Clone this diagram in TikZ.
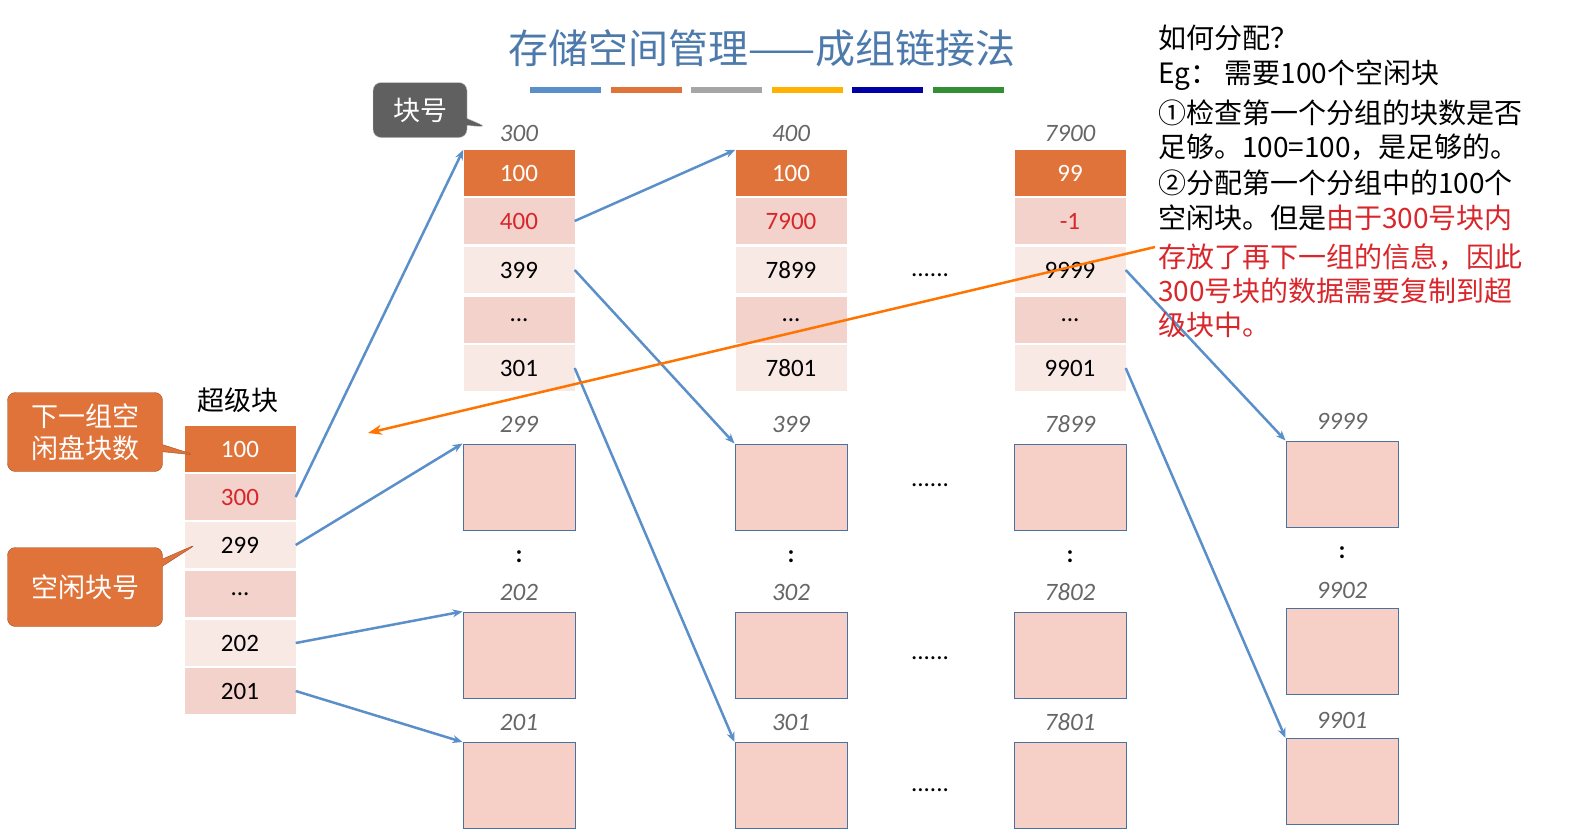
\documentclass[tikz,border=0pt]{standalone}
\usepackage{fontspec}
\setmainfont{Carlito}
\newfontfamily\cjk{Noto Sans CJK SC}
\usetikzlibrary{arrows.meta,shapes.callouts}
\definecolor{hdr}{HTML}{E0733A}
\definecolor{rowa}{HTML}{F2D2CA}
\definecolor{rowb}{HTML}{F9E9E5}
\definecolor{blk}{HTML}{F6D0C6}
\definecolor{lnk}{HTML}{5B8FC9}
\definecolor{txtred}{HTML}{D9262B}
\tikzset{
  cell/.style={minimum width=111pt,minimum height=46pt,inner sep=0pt,font=\fontsize{25}{25}\selectfont},
  blank/.style={draw=lnk!80!black,fill=blk,line width=1pt,minimum width=112pt,minimum height=86pt,inner sep=0pt},
  num/.style={text=gray!80!black,font=\fontsize{25}{25}\selectfont\itshape},
  link/.style={draw=lnk,line width=2.5pt,-{Stealth[length=10pt,width=8pt]}},
  note/.style={anchor=west,inner sep=0pt,font=\cjk\fontsize{28}{28}\selectfont},
  dots/.style={font=\fontsize{25}{25}\selectfont,inner sep=0pt}
}
\begin{document}
\begin{tikzpicture}[x=1pt,y=-1pt]
\useasboundingbox (0,0) rectangle (1588,833);
% title
\node[text=lnk!85!black,font=\cjk\fontsize{40}{40}\selectfont] (title) at (762,48) {存储空间管理——成组链接法};
\foreach \c [count=\i from 0] in {lnk,hdr,gray!70,{orange!60!yellow},{blue!65!black},{green!45!black!80!white}}
   \fill[\c] (530+80.6*\i,87) rectangle +(71,6);

% super block
\node[font=\cjk\fontsize{27}{27}\selectfont] (sbname) at (238,400) {超级块};
\node[cell,fill=hdr,text=white] (s1) at (240,449) {100};
\node[cell,fill=rowa,text=txtred] (s2) at (240,497) {300};
\node[cell,fill=rowb] (s3) at (240,545) {299};
\node[cell,fill=rowa] (s4) at (240,594) {...};
\node[cell,fill=rowb] (s5) at (240,643) {202};
\node[cell,fill=rowa] (s6) at (240,691) {201};

% groups
\foreach \x/\n/\a/\b/\c/\d/\e in {519/g1/300/100/400/399/301, 791/g2/400/100/7900/7899/7801, 1070/g3/7900/99/-1/9999/9901}{
   \node[num] (\n-no) at (\x,133) {\a};
   \node[cell,fill=hdr,text=white] (\n-1) at (\x,173) {\b};
   \node[cell,fill=rowa,text=txtred] (\n-2) at (\x,221) {\c};
   \node[cell,fill=rowb] (\n-3) at (\x,270) {\d};
   \node[cell,fill=rowa] (\n-4) at (\x,320) {...};
   \node[cell,fill=rowb] (\n-5) at (\x,368) {\e};
}
\foreach \y in {275,485,658,790}
   \node[dots] at (930,\y) {......};

% free blocks
\foreach \x/\n/\a/\b/\c in {519/b1/299/202/201, 791/b2/399/302/301, 1070/b3/7899/7802/7801}{
   \node[num] (\n-la) at (\x,424) {\a};
   \node[blank] (\n-a) at (\x,487) {};
   \node[dots] (\n-v) at (\x,557) {\textbf{:}};
   \node[num] (\n-lb) at (\x,592) {\b};
   \node[blank] (\n-b) at (\x,655) {};
   \node[num] (\n-lc) at (\x,722) {\c};
   \node[blank,anchor=north] (\n-c) at (\x,742) {};
}
\node[num] (b4-la) at (1342,421) {9999};
\node[blank] (b4-a) at (1342,484) {};
\node[dots] (b4-v) at (1342,553) {\textbf{:}};
\node[num] (b4-lb) at (1342,590) {9902};
\node[blank] (b4-b) at (1342,651) {};
\node[num] (b4-lc) at (1342,720) {9901};
\node[blank,anchor=north] (b4-c) at (1342,738) {};

% links
\draw[link] (s2.east) -- (g1-1.north west);
\draw[link] (s3.east) -- (b1-a.north west);
\draw[link] (s5.east) -- (b1-b.north west);
\draw[link] (s6.east) -- (b1-c.north west);
\draw[link] (g1-2.east) -- (g2-1.north west);
\draw[link] (g1-3.east) -- (b2-a.north west);
\draw[link] (g1-5.east) -- (b2-c.north west);
\draw[link] (g3-3.east) -- (b4-a.north west);
\draw[link] (g3-5.east) -- (b4-c.north west);
\coordinate (cp) at (1155,247);
\coordinate (cq) at (368,433);
\draw[draw=orange!90!red,line width=2.5pt,-{Stealth[length=14pt,width=10pt]}] (cp) -- (cq);

% callouts
\node[rectangle callout,rounded corners=8pt,fill=gray!75!black,draw=gray!40,text=white,font=\cjk\fontsize{27}{27}\selectfont,minimum width=94pt,minimum height=55pt,callout absolute pointer={(487,127)}] (kh) at (420,110) {块号};
\node[rectangle callout,rounded corners=8pt,fill=hdr,draw=hdr!70!black,text=white,font=\cjk\fontsize{27}{32}\selectfont,align=center,minimum width=155pt,minimum height=79pt,callout absolute pointer={(195,455)}] (nx) at (85,432) {下一组空\\闲盘块数};
\node[rectangle callout,rounded corners=8pt,fill=hdr,draw=hdr!70!black,text=white,font=\cjk\fontsize{27}{27}\selectfont,minimum width=155pt,minimum height=79pt,callout absolute pointer={(197,544)}] (kx) at (85,587) {空闲块号};

% notes
\node[note] (t1) at (1158,38) {如何分配？};
\node[note] (t2) at (1158,75) {Eg： 需要100个空闲块};
\node[note] (t3) at (1158,113) {①检查第一个分组的块数是否};
\node[note] (t4) at (1158,147) {足够。100=100，是足够的。};
\node[note] (t5) at (1158,183) {②分配第一个分组中的100个};
\node[note] (t6) at (1158,218) {空闲块。但是\textcolor{txtred}{由于300号块内}};
\node[note,text=txtred] (t7) at (1158,257) {存放了再下一组的信息，因此};
\node[note,text=txtred] (t8) at (1158,291) {300号块的数据需要复制到超};
\node[note,text=txtred] (t9) at (1158,325) {级块中。};
\end{tikzpicture}
\end{document}
